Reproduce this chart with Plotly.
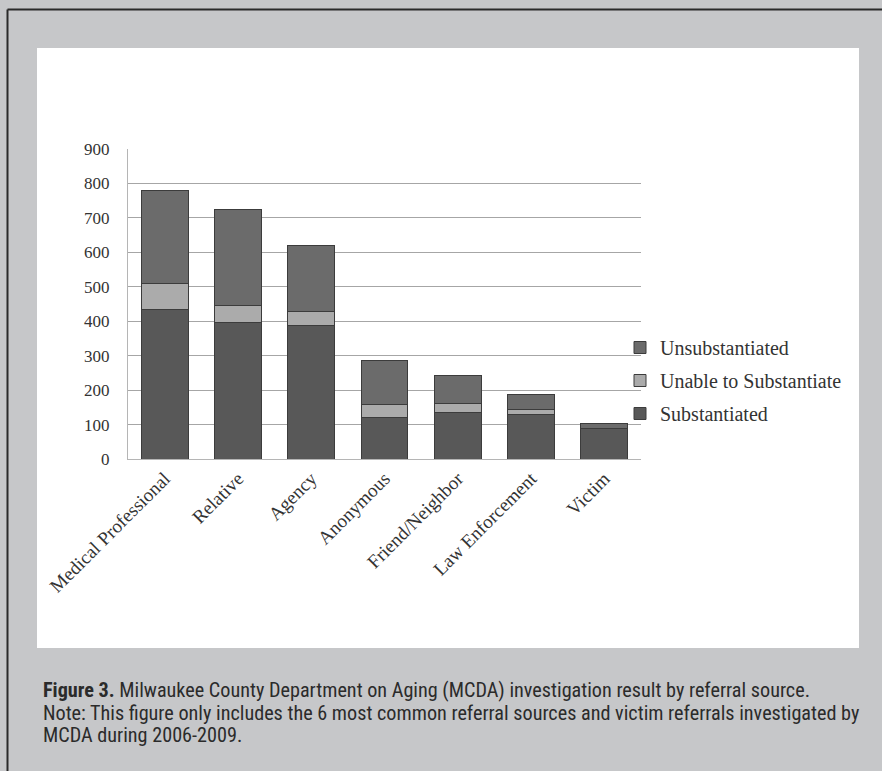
import plotly.graph_objects as go

categories = ["Medical Professional", "Relative", "Agency", "Anonymous",
              "Friend/Neighbor", "Law Enforcement", "Victim"]
substantiated = [435, 397, 388, 120, 134, 128, 88]
unable_to_substantiate = [75, 48, 41, 37, 28, 16, 2]
unsubstantiated = [270, 278, 190, 130, 80, 42, 14]
y_ticks = [0, 100, 200, 300, 400, 500, 600, 700, 800, 900]

series_names = ["Substantiated", "Unable to Substantiate", "Unsubstantiated"]
series_values = [substantiated, unable_to_substantiate, unsubstantiated]
series_colors = ["#585858", "#ababab", "#6b6b6b"]
legend_ranks = [3, 2, 1]

caption_lines = [
    "<b>Figure 3.</b> Milwaukee County Department on Aging (MCDA) "
    "investigation result by referral source.",
    "Note: This figure only includes the 6 most common referral "
    "sources and victim referrals investigated by",
    "MCDA during 2006-2009.",
]

W, H = 882, 771
PL, PR, PT, PB = 128, 641, 149, 459  # plot area in pixels


def px(x):
    return (x - PL) / (PR - PL)


def py(y):
    return (PB - y) / (PB - PT)


fig = go.Figure()
for name, vals, col, rk in zip(series_names, series_values, series_colors, legend_ranks):
    fig.add_trace(go.Bar(
        x=categories, y=vals, name=name, legendgroup=name, legendrank=rk,
        marker=dict(color=col, line=dict(color="#3c3c3c", width=1)),
    ))

serif = "Liberation Serif, Times New Roman, serif"
caption_font = "Liberation Sans Narrow, Arial Narrow, Roboto Condensed, Liberation Sans, sans-serif"

annotations = []
for i, line in enumerate(caption_lines):
    annotations.append(dict(
        xref="paper", yref="paper", x=px(41), y=py(690 + 22.5 * i),
        xanchor="left", yanchor="middle", align="left", showarrow=False,
        text=line, font=dict(family=caption_font, size=20.2, color="#2b2b2b")))

fig.update_layout(
    width=W, height=H,
    margin=dict(l=PL, r=W - PR, t=PT, b=H - PB, autoexpand=False),
    paper_bgcolor="#c6c7c9",
    plot_bgcolor="#e4e4e4",
    barmode="stack",
    bargap=0.36,
    showlegend=True,
    legend=dict(
        x=px(620), y=py(328), xanchor="left", yanchor="top",
        traceorder="grouped", tracegroupgap=4,
        font=dict(family=serif, size=20, color="#333333"),
        bgcolor="rgba(0,0,0,0)",
        itemwidth=30,
    ),
    xaxis=dict(
        tickangle=-45,
        tickfont=dict(family=serif, size=19, color="#333333"),
        showgrid=False, showline=True, linecolor="#b5b5b5",
        ticks="", fixedrange=True,
    ),
    yaxis=dict(
        range=[0, 900], tickvals=y_ticks,
        tickfont=dict(family=serif, size=17, color="#333333"),
        showgrid=True, gridcolor="#a6a6a6", gridwidth=1,
        showline=True, linecolor="#b5b5b5",
        ticks="outside", ticklen=14, tickcolor="rgba(0,0,0,0)",
        zeroline=False,
    ),
    shapes=[
        dict(type="rect", xref="paper", yref="paper", layer="below",
             x0=px(37), x1=px(859), y0=py(648), y1=py(48),
             fillcolor="#ffffff", line=dict(width=0)),
        dict(type="line", xref="paper", yref="paper",
             x0=px(7.5), x1=px(W), y0=py(9.5), y1=py(9.5),
             line=dict(color="#2a2a2a", width=2)),
        dict(type="line", xref="paper", yref="paper",
             x0=px(7.5), x1=px(7.5), y0=py(9.5), y1=py(H),
             line=dict(color="#2a2a2a", width=2)),
    ],
    annotations=annotations,
)

fig.write_html("out.html")
